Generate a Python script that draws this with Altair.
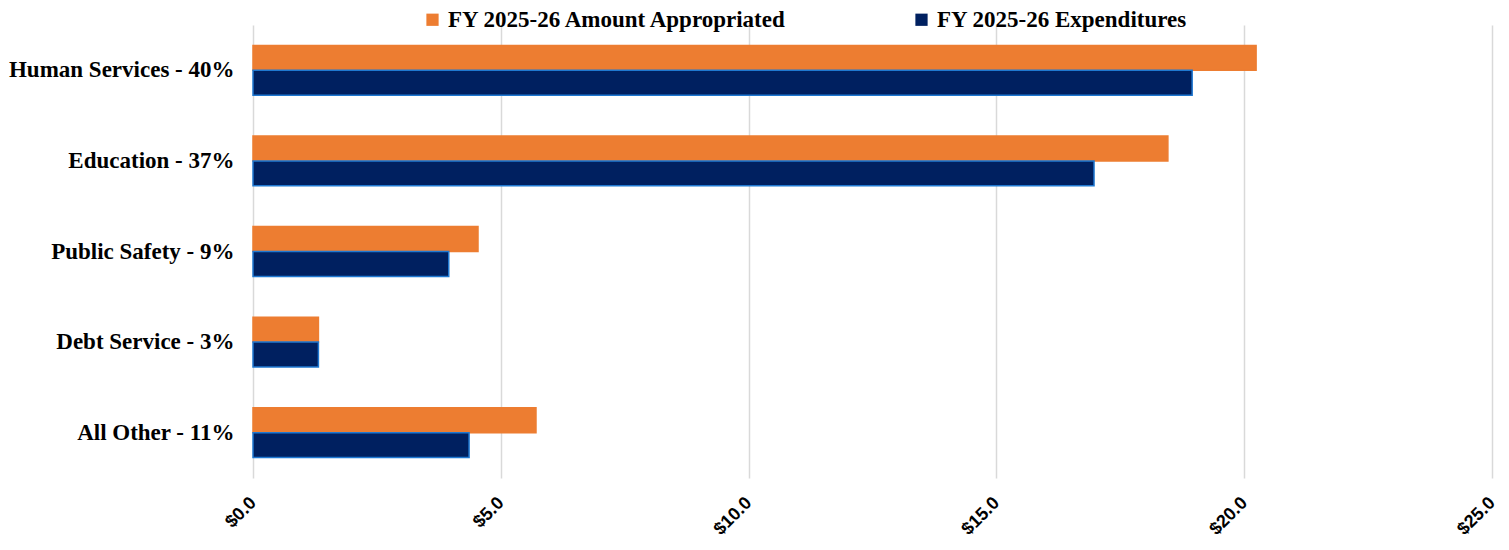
import altair as alt
import pandas as pd

categories = ["Human Services - 40%", "Education - 37%", "Public Safety - 9%", "Debt Service - 3%", "All Other - 11%"]
series = ["FY 2025-26 Amount Appropriated", "FY 2025-26 Expenditures"]
appropriated = [20.24, 18.46, 4.54, 1.32, 5.71]
expenditures = [18.95, 16.97, 3.95, 1.32, 4.36]
x_ticks = [0, 5, 10, 15, 20, 25]

rows = []
for c, a, e in zip(categories, appropriated, expenditures):
    rows.append({"category": c, "series": series[0], "value": a})
    rows.append({"category": c, "series": series[1], "value": e})
df = pd.DataFrame(rows)

orange = "#ED7D31"
navy = "#002060"

chart = alt.Chart(df).mark_bar(strokeWidth=1.5).encode(
    x=alt.X("value:Q",
            scale=alt.Scale(domain=[0, 25], nice=False),
            axis=alt.Axis(values=x_ticks, format="$.1f", title=None, labelAngle=-45,
                          labelAlign="right", labelBaseline="middle",
                          labelFont="Liberation Sans", labelFontWeight="bold", labelFontSize=18,
                          labelColor="#000000", labelPadding=22, ticks=False, domain=False,
                          grid=True, gridColor="#D9D9D9", gridWidth=1.5)),
    y=alt.Y("category:N", sort=categories,
            scale=alt.Scale(paddingInner=0.45, paddingOuter=0.225),
            axis=alt.Axis(title=None, labelFont="Liberation Serif", labelFontWeight="bold",
                          labelFontSize=23, labelColor="#000000", labelPadding=19,
                          ticks=False, domain=False, labelLimit=400)),
    yOffset=alt.YOffset("series:N", sort=series, scale=alt.Scale(paddingInner=0, paddingOuter=0)),
    color=alt.Color("series:N", sort=series,
                    scale=alt.Scale(domain=series, range=[orange, navy]),
                    legend=alt.Legend(title=None, orient="none", direction="horizontal",
                                      legendX=168, legendY=-17, symbolType="square",
                                      symbolSize=150, symbolStrokeWidth=0,
                                      labelFont="Liberation Serif", labelFontWeight="bold",
                                      labelFontSize=23, labelColor="#000000", labelLimit=600,
                                      columnPadding=121, labelOffset=4)),
    stroke=alt.Stroke("series:N", sort=series,
                      scale=alt.Scale(domain=series, range=[orange, "#1F78D1"]),
                      legend=None),
).properties(
    width=1239, height=453,
    autosize=alt.AutoSizeParams(type="none"),
    padding={"left": 245, "top": 17, "right": 9, "bottom": 60},
).configure_view(stroke=None)

chart.save("out.html", embed_options={"renderer": "svg", "actions": False})
